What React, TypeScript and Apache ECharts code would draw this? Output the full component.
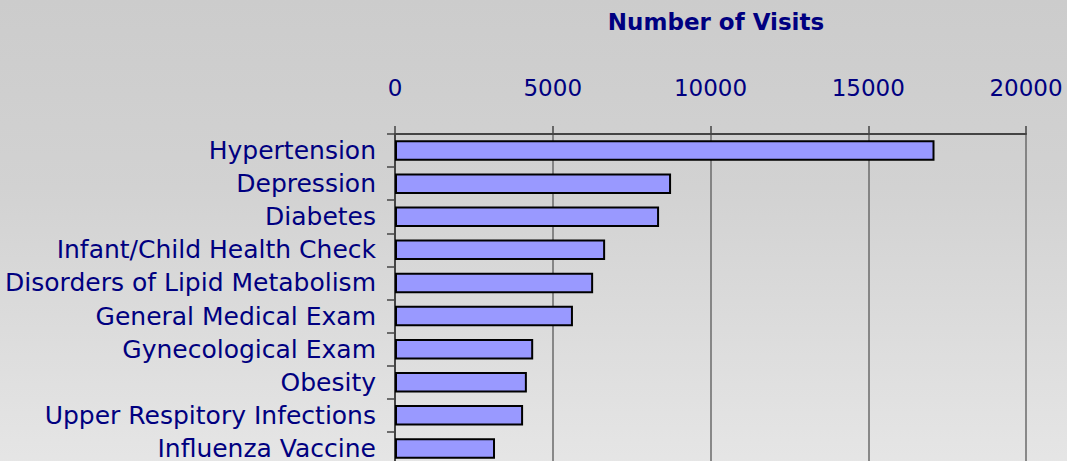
import React, { useEffect, useRef } from "react";
import * as echarts from "echarts";

const categories = [
  "Hypertension",
  "Depression",
  "Diabetes",
  "Infant/Child Health Check",
  "Disorders of Lipid Metabolism",
  "General Medical Exam",
  "Gynecological Exam",
  "Obesity",
  "Upper Respitory Infections",
  "Influenza Vaccine",
];
const visits = [17100, 8750, 8370, 6660, 6280, 5640, 4380, 4180, 4060, 3170];
const titleText = "Number of Visits";

const NAVY = "#000080";
const FONT = "'Comic Sans MS', 'DejaVu Sans', sans-serif";

export default function App() {
  const ref = useRef<HTMLDivElement>(null);
  useEffect(() => {
    document.body.style.margin = "0";
    const chart = echarts.init(ref.current!, null, { renderer: "svg" });
    chart.setOption({
      animation: false,
      backgroundColor: "transparent",
      title: {
        text: titleText,
        left: 711,
        top: 5,
        textAlign: "center",
        textStyle: { color: NAVY, fontFamily: FONT, fontWeight: "bold", fontSize: 23 },
      },
      grid: { left: 395, right: 41, top: 134, height: 331, containLabel: false },
      xAxis: {
        type: "value",
        position: "top",
        min: 0,
        max: 20000,
        interval: 5000,
        axisLine: { show: true, lineStyle: { color: "#444", width: 2 } },
        axisTick: { show: true, length: 8, lineStyle: { color: "#444", width: 1.5 } },
        axisLabel: {
          color: NAVY,
          fontFamily: FONT,
          fontSize: 23,
          margin: 35,
          formatter: (v: number) => String(v),
        },
        splitLine: { show: true, lineStyle: { color: "#6a6a6a", width: 1.5 } },
      },
      yAxis: {
        type: "category",
        data: categories,
        inverse: true,
        axisLine: { show: true, lineStyle: { color: "#444", width: 2 } },
        axisTick: { show: true, length: 8, lineStyle: { color: "#444", width: 1.5 } },
        axisLabel: { color: NAVY, fontFamily: FONT, fontSize: 25, margin: 19 },
      },
      series: [
        {
          type: "bar",
          data: visits,
          barWidth: "62%",
          itemStyle: { color: "#9999ff", borderColor: "#000", borderWidth: 2 },
        },
      ],
    });
    return () => chart.dispose();
  }, []);
  return (
    <div
      ref={ref}
      style={{
        width: 1067,
        height: 470,
        background: "linear-gradient(to bottom, #cccccc 0%, #d2d2d2 40%, #e6e6e6 100%)",
      }}
    />
  );
}
